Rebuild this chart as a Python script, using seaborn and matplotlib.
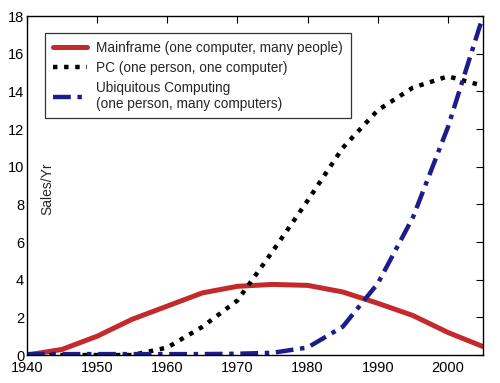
#!/usr/bin/env python3
"""Computing eras: sales per year of mainframe, PC and ubiquitous computing"""
import matplotlib; matplotlib.use("Agg")
import matplotlib.pyplot as plt
import pandas as pd
import seaborn as sns

years = [1940, 1945, 1950, 1955, 1960, 1965, 1970, 1975, 1980, 1985, 1990, 1995, 2000, 2005]
mainframe = [0.0, 0.3, 1.0, 1.9, 2.6, 3.3, 3.65, 3.75, 3.7, 3.35, 2.75, 2.1, 1.2, 0.45]
pc = [0.0, 0.0, 0.0, 0.0, 0.4, 1.5, 2.9, 5.5, 8.2, 11.0, 13.0, 14.2, 14.8, 14.3]
ubiq = [0.05, 0.05, 0.05, 0.05, 0.05, 0.05, 0.07, 0.12, 0.4, 1.5, 3.8, 7.3, 12.1, 18.0]
labels = ["Mainframe (one computer, many people)",
          "PC (one person, one computer)",
          "Ubiquitous Computing\n(one person, many computers)"]

df = pd.DataFrame({"year": years, "mainframe": mainframe, "pc": pc, "ubiq": ubiq})

sns.set_style("white")
plt.rcParams["font.family"] = ["Liberation Sans", "DejaVu Sans"]

fig = plt.figure(figsize=(5, 3.83), dpi=100)
ax = fig.add_axes([0.054, 0.073, 0.912, 0.885])

styles = [("mainframe", "#c42a2c", "-", 3.6),
          ("pc", "black", (0, (1, 1.5)), 3.2),
          ("ubiq", "#1c1c8a", (0, (4, 1.5, 1, 1.5)), 3.2)]
for (col, c, ls, lw), lab in zip(styles, labels):
    sns.lineplot(data=df, x="year", y=col, color=c, linestyle=ls, linewidth=lw,
                 label=lab, ax=ax)

ax.set_xlim(1940, 2005); ax.set_ylim(0, 18)
ax.set_xticks(range(1940, 2001, 10)); ax.set_yticks(range(0, 19, 2))
ax.tick_params(direction="in", length=5, width=0.8, top=True, right=True,
               labelsize=10.5, colors="black", pad=2)
ax.tick_params(axis="x", pad=4)
for s in ax.spines.values():
    s.set_color("black"); s.set_linewidth(1.0)
ax.set_xlabel(""); ax.set_ylabel("")
ax.text(0.044, 0.49, "Sales/Yr", transform=ax.transAxes, rotation=90,
        ha="center", va="center", fontsize=10)

leg = ax.legend(loc="upper left", bbox_to_anchor=(0.04, 0.95), borderaxespad=0,
                fontsize=9.8, frameon=True, fancybox=False, handlelength=2.5,
                borderpad=0.55, labelspacing=0.45, handletextpad=0.7)
leg.get_frame().set_edgecolor("black"); leg.get_frame().set_linewidth(0.9)

fig.savefig("out.png", dpi=100)
